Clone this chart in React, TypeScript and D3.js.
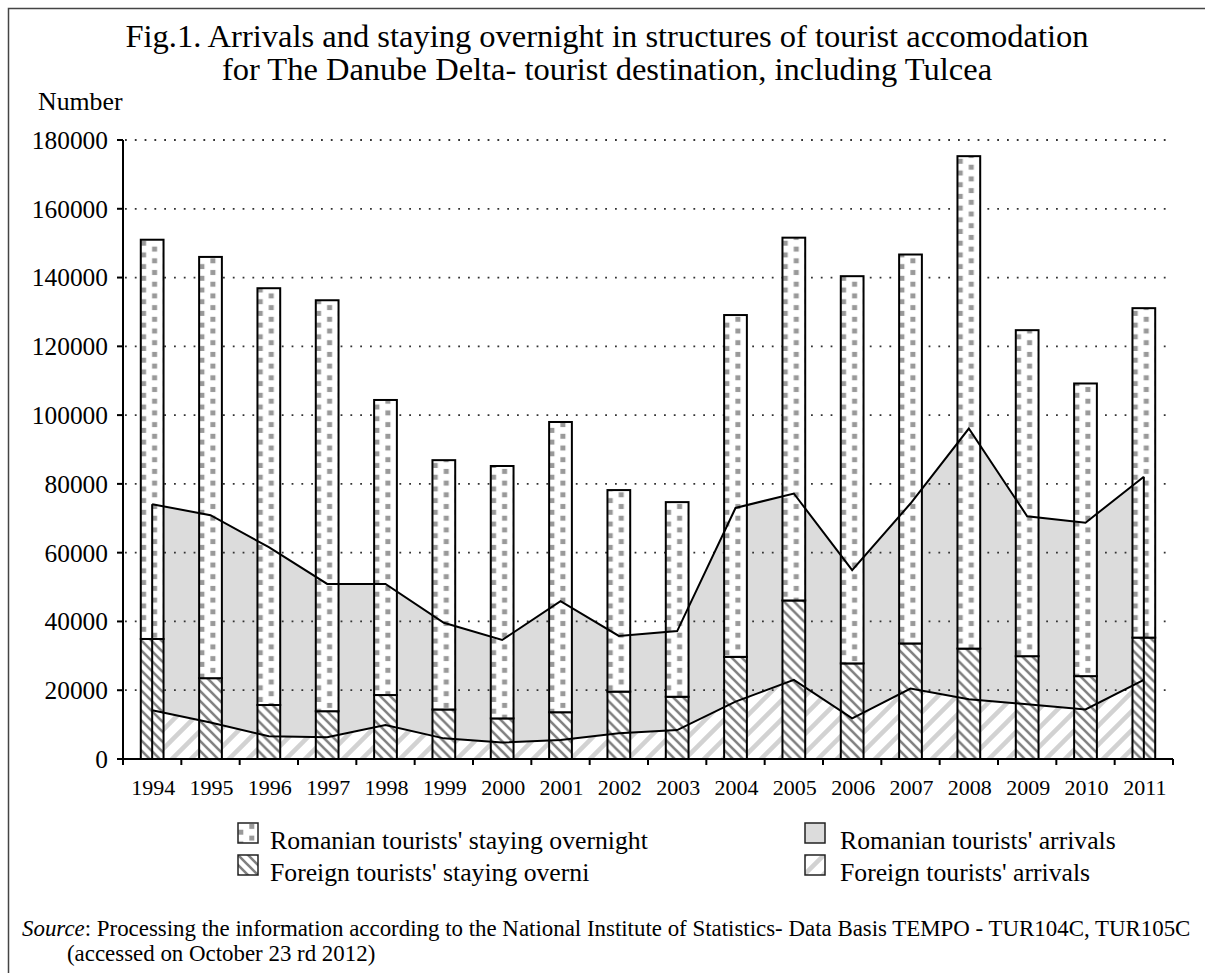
import { useEffect, useRef } from 'react';
import * as d3 from 'd3';

// data
const years = ['1994', '1995', '1996', '1997', '1998', '1999', '2000', '2001', '2002', '2003', '2004', '2005', '2006', '2007', '2008', '2009', '2010', '2011'];
const foreignOvernight = [34900, 23500, 15700, 13900, 18600, 14400, 11800, 13600, 19600, 18100, 29700, 46100, 27800, 33600, 32100, 29900, 24100, 35300];
const romanianOvernight = [116100, 122500, 121200, 119500, 85800, 72500, 73400, 84400, 58600, 56600, 99400, 105500, 112600, 113100, 143200, 94800, 85100, 95800];
const foreignArrivals = [14200, 10600, 6600, 6300, 9900, 6000, 4800, 5500, 7500, 8400, 16700, 23000, 11800, 20500, 17400, 15900, 14400, 23000];
const romanianArrivals = [59900, 60300, 55000, 44600, 41000, 33600, 29800, 40400, 28300, 28800, 56300, 54200, 43100, 53800, 78700, 54700, 54300, 59100];
const yTicks = [0, 20000, 40000, 60000, 80000, 100000, 120000, 140000, 160000, 180000];

const titleLines = [
  'Fig.1. Arrivals and staying overnight in structures of tourist accomodation',
  'for The Danube Delta- tourist destination, including Tulcea',
];
const legendItems = [
  { label: "Romanian tourists' staying overnight", fill: 'url(#dots)', col: 0, row: 0 },
  { label: "Foreign tourists' staying overni", fill: 'url(#hatchDown)', col: 0, row: 1 },
  { label: "Romanian tourists' arrivals", fill: '#dcdcdc', col: 1, row: 0 },
  { label: "Foreign tourists' arrivals", fill: 'url(#hatchUp)', col: 1, row: 1 },
];

const SERIF = '"Liberation Serif", "Times New Roman", serif';

export default function App() {
  const svgRef = useRef(null);

  useEffect(() => {
    const svg = d3.select(svgRef.current);
    svg.selectAll('*').remove();
    const W = 1205, H = 973;
    svg.attr('width', W).attr('height', H).style('font-family', SERIF);

    const left = 123, right = 1173, top = 140, bottom = 759;
    const x = d3.scaleBand().domain(years).range([left, right]);
    const y = d3.scaleLinear().domain([0, 180000]).range([bottom, top]);
    const bw = x.bandwidth();
    const barW = bw * 0.39;
    const cx = (d) => x(d) + bw / 2;

    // patterns
    const defs = svg.append('defs');
    const dots = defs.append('pattern').attr('id', 'dots').attr('patternUnits', 'userSpaceOnUse')
      .attr('width', 22).attr('height', 11.7);
    dots.append('rect').attr('width', 22).attr('height', 11.7).attr('fill', '#fff');
    dots.append('rect').attr('x', 0.3).attr('y', 6.7).attr('width', 5).attr('height', 5).attr('fill', '#999');
    dots.append('rect').attr('x', 11.3).attr('y', 0.9).attr('width', 5).attr('height', 5).attr('fill', '#999');

    const s1 = 10;
    const hd = defs.append('pattern').attr('id', 'hatchDown').attr('patternUnits', 'userSpaceOnUse')
      .attr('width', s1).attr('height', s1);
    hd.append('rect').attr('width', s1).attr('height', s1).attr('fill', '#fff');
    hd.append('path')
      .attr('d', `M0,0L${s1},${s1}M-2,${s1 - 2}L2,${s1 + 2}M${s1 - 2},-2L${s1 + 2},2`)
      .attr('stroke', '#808080').attr('stroke-width', 2.6);

    const s2 = 19;
    const hu = defs.append('pattern').attr('id', 'hatchUp').attr('patternUnits', 'userSpaceOnUse')
      .attr('width', s2).attr('height', s2);
    hu.append('rect').attr('width', s2).attr('height', s2).attr('fill', '#fff');
    hu.append('path')
      .attr('d', `M0,${s2}L${s2},0M-3,3L3,-3M${s2 - 3},${s2 + 3}L${s2 + 3},${s2 - 3}`)
      .attr('stroke', '#d2d2d2').attr('stroke-width', 4.5);

    // frame
    svg.append('rect').attr('x', 8.5).attr('y', 8.5).attr('width', 1220).attr('height', 1000)
      .attr('fill', 'none').attr('stroke', '#444').attr('stroke-width', 1.5);

    // title
    svg.append('g').selectAll('text').data(titleLines).join('text')
      .attr('x', 607).attr('y', (d, i) => 47 + i * 33)
      .attr('text-anchor', 'middle').style('font-size', '32.5px').text(d => d);

    svg.append('text').attr('x', 38).attr('y', 110).style('font-size', '25.8px').text('Number');

    // areas
    const stackedArr = years.map((d, i) => ({ year: d, fa: foreignArrivals[i], tot: foreignArrivals[i] + romanianArrivals[i] }));
    const areaF = d3.area().x(d => cx(d.year)).y0(y(0)).y1(d => y(d.fa));
    const areaR = d3.area().x(d => cx(d.year)).y0(d => y(d.fa)).y1(d => y(d.tot));
    svg.append('path').attr('d', areaF(stackedArr)).attr('fill', 'url(#hatchUp)');
    svg.append('path').attr('d', areaR(stackedArr)).attr('fill', '#dcdcdc');

    // dotted gridlines
    svg.append('g').selectAll('line').data(yTicks.slice(1)).join('line')
      .attr('x1', left + 2).attr('x2', right).attr('y1', d => y(d)).attr('y2', d => y(d))
      .attr('stroke', '#333').attr('stroke-width', 1.8).attr('stroke-dasharray', '1.8 8');

    // stacked bars, each in its own group so the pattern starts at the bar's left edge
    const bars = svg.append('g').selectAll('g').data(years).join('g')
      .attr('transform', d => `translate(${x(d) + (bw - barW) / 2},0)`);
    bars.append('rect')
      .attr('y', (d, i) => y(foreignOvernight[i]))
      .attr('height', (d, i) => y(0) - y(foreignOvernight[i]))
      .attr('width', barW).attr('fill', 'url(#hatchDown)')
      .attr('stroke', '#000').attr('stroke-width', 2);
    bars.append('rect')
      .attr('y', (d, i) => y(foreignOvernight[i] + romanianOvernight[i]))
      .attr('height', (d, i) => y(foreignOvernight[i]) - y(foreignOvernight[i] + romanianOvernight[i]))
      .attr('width', barW).attr('fill', 'url(#dots)')
      .attr('stroke', '#000').attr('stroke-width', 2);

    // area outlines on top of the bars
    const lineF = d3.line().x(d => cx(d.year)).y(d => y(d.fa));
    const lineT = d3.line().x(d => cx(d.year)).y(d => y(d.tot));
    svg.append('path').attr('d', lineF(stackedArr)).attr('fill', 'none').attr('stroke', '#000').attr('stroke-width', 2);
    svg.append('path').attr('d', lineT(stackedArr)).attr('fill', 'none').attr('stroke', '#000').attr('stroke-width', 2);
    [stackedArr[0], stackedArr[stackedArr.length - 1]].forEach(d => {
      svg.append('line').attr('x1', cx(d.year)).attr('x2', cx(d.year))
        .attr('y1', y(0)).attr('y2', y(d.tot)).attr('stroke', '#000').attr('stroke-width', 2);
    });

    // y axis
    const yAxis = svg.append('g');
    yAxis.append('line').attr('x1', left).attr('x2', left).attr('y1', top).attr('y2', bottom)
      .attr('stroke', '#000').attr('stroke-width', 2);
    yAxis.selectAll('line.tick').data(yTicks).join('line').attr('class', 'tick')
      .attr('x1', left - 6).attr('x2', left).attr('y1', d => y(d)).attr('y2', d => y(d))
      .attr('stroke', '#000').attr('stroke-width', 2);
    yAxis.selectAll('text').data(yTicks).join('text')
      .attr('x', left - 15).attr('y', d => y(d)).attr('text-anchor', 'end')
      .attr('dy', '0.35em').style('font-size', '25.4px').text(d => d);

    // x axis
    const xAxis = svg.append('g');
    xAxis.append('line').attr('x1', left).attr('x2', right).attr('y1', bottom).attr('y2', bottom)
      .attr('stroke', '#000').attr('stroke-width', 2);
    xAxis.selectAll('line.tick').data([...years.map(d => x(d)), right]).join('line').attr('class', 'tick')
      .attr('x1', d => d).attr('x2', d => d).attr('y1', bottom).attr('y2', bottom + 6)
      .attr('stroke', '#000').attr('stroke-width', 2);
    xAxis.selectAll('text').data(years).join('text')
      .attr('x', d => cx(d) + 1).attr('y', 795).attr('text-anchor', 'middle')
      .style('font-size', '22px').text(d => d);

    // legend
    const lg = svg.append('g').selectAll('g').data(legendItems).join('g')
      .attr('transform', d => `translate(${d.col ? 805 : 238},${d.row ? 855 : 823})`);
    lg.append('rect').attr('width', 20).attr('height', 20).attr('fill', d => d.fill)
      .attr('stroke', '#222').attr('stroke-width', 1.5);
    lg.append('text').attr('x', d => d.col ? 35 : 32).attr('y', 26)
      .style('font-size', '25.7px').text(d => d.label);

    // source note
    const src = svg.append('text').attr('x', 22).attr('y', 936).style('font-size', '22.9px');
    src.append('tspan').style('font-style', 'italic').text('Source');
    src.append('tspan').text(': Processing the information according to the National Institute of Statistics- Data Basis TEMPO - TUR104C, TUR105C');
    svg.append('text').attr('x', 67).attr('y', 961).style('font-size', '22.9px')
      .text('(accessed on October 23 rd 2012)');
  }, []);

  return (
    <div style={{ position: 'absolute', left: 0, top: 0 }}>
      <svg ref={svgRef} style={{ display: 'block' }} />
    </div>
  );
}
